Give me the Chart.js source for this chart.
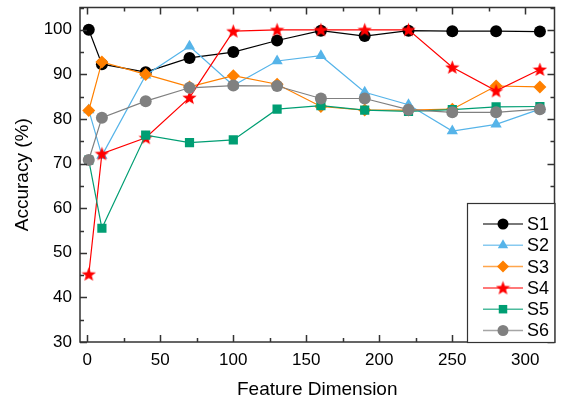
<!DOCTYPE html>
<html>
<head>
<meta charset="utf-8">
<script src="https://cdn.jsdelivr.net/npm/chart.js@4"></script>
<style>
  body { margin: 0; background: #fff; }
  #wrap { width: 562px; height: 403px; }
</style>
</head>
<body>
<div id="wrap"><canvas id="chart"></canvas></div>
<script>
const xValues = [1, 10, 40, 70, 100, 130, 160, 190, 220, 250, 280, 310];
const xTicks = [0, 50, 100, 150, 200, 250, 300];
const yTicks = [30, 40, 50, 60, 70, 80, 90, 100];

const s1 = [100, 92.3, 90.5, 93.7, 95.0, 97.6, 99.8, 98.6, 99.8, 99.7, 99.7, 99.6];
const s2 = [82.0, 71.8, 89.8, 96.3, 87.5, 93.0, 94.2, 86.0, 83.2, 77.3, 78.8, 82.2];
const s3 = [81.9, 92.8, 90.0, 87.2, 89.7, 87.8, 82.8, 82.0, 82.0, 82.2, 87.4, 87.2];
const s4 = [45.2, 72.2, 75.8, 84.8, 99.7, 100, 100, 100, 100, 91.6, 86.3, 91.1];
const s5 = [70.8, 55.5, 76.4, 74.7, 75.3, 82.2, 83.0, 82.0, 81.7, 82.1, 82.7, 82.8];
const s6 = [70.8, 80.3, 84.0, 87.0, 87.5, 87.4, 84.6, 84.6, 82.1, 81.5, 81.5, 82.2];

const names = ['S1', 'S2', 'S3', 'S4', 'S5', 'S6'];
const series = [s1, s2, s3, s4, s5, s6];
const colors = ['#000000', '#56B4E9', '#FF8000', '#FF0000', '#009E73', '#808080'];

// filled five point star, chart.js 'star' is only strokes
function makeStar(size, color) {
    const c = document.createElement('canvas');
    c.width = size; c.height = size;
    const g = c.getContext('2d');
    const r = size / 2, ri = r * 0.42;
    g.beginPath();
    for (let i = 0; i < 10; i++) {
        const rad = i % 2 ? ri : r;
        const a = -Math.PI / 2 + i * Math.PI / 5;
        g.lineTo(r + rad * Math.cos(a), r + 0.5 + rad * Math.sin(a));
    }
    g.closePath();
    g.fillStyle = color;
    g.fill();
    return c;
}

const styles = ['circle', 'triangle', 'rectRot', makeStar(15, '#FF0000'), 'rect', 'circle'];
const radii = [6, 6.5, 6.5, 7.5, 6.5, 6];
const font = '"Liberation Sans", Arial, sans-serif';

const ctx = document.getElementById('chart').getContext('2d');

// frame + inward major/minor ticks on all four sides, plus the boxed legend
const frameTicks = {
    id: 'frameTicks',
    afterDraw(chart) {
        const { ctx, chartArea: a, scales: { x, y } } = chart;
        ctx.save();
        ctx.strokeStyle = '#333';
        ctx.lineWidth = 1.5;
        ctx.strokeRect(a.left, a.top, a.right - a.left, a.bottom - a.top);
        ctx.beginPath();
        for (let v = 0; v <= 300; v += 25) {
            const px = Math.round(x.getPixelForValue(v)) + 0.5;
            const len = v % 50 === 0 ? 7 : 4;
            ctx.moveTo(px, a.bottom); ctx.lineTo(px, a.bottom - len);
            ctx.moveTo(px, a.top); ctx.lineTo(px, a.top + len);
        }
        for (let v = 30; v <= 105; v += 5) {
            const py = Math.round(y.getPixelForValue(v)) + 0.5;
            const len = v % 10 === 0 ? 7 : 4;
            ctx.moveTo(a.left, py); ctx.lineTo(a.left + len, py);
            ctx.moveTo(a.right, py); ctx.lineTo(a.right - len, py);
        }
        ctx.stroke();

        const bx = 467, by = 203, bw = a.right - 467, bh = a.bottom - 203;
        ctx.fillStyle = '#fff';
        ctx.fillRect(bx, by, bw, bh);
        ctx.strokeStyle = '#333';
        ctx.lineWidth = 1.2;
        ctx.strokeRect(bx + 0.5, by + 0.5, bw, bh);
        ctx.font = '18px ' + font;
        ctx.textBaseline = 'middle';
        names.forEach((n, i) => {
            const ly = by + 21 + i * 21.3;
            ctx.strokeStyle = colors[i];
            ctx.globalAlpha = 0.7;
            ctx.lineWidth = 1.5;
            ctx.beginPath();
            ctx.moveTo(483, ly); ctx.lineTo(523, ly);
            ctx.stroke();
            ctx.globalAlpha = 1;
            ctx.fillStyle = colors[i];
            Chart.helpers.drawPoint(ctx, {
                pointStyle: styles[i], radius: radii[i] - 0.5, rotation: 0, borderWidth: 0
            }, 503, ly);
            ctx.fillStyle = '#000';
            ctx.fillText(n, 527, ly + 1);
        });
        ctx.restore();
    }
};

new Chart(ctx, {
    type: 'line',
    data: {
        datasets: series.map((s, i) => ({
            label: names[i],
            data: s.map((v, j) => ({ x: xValues[j], y: v })),
            borderColor: colors[i],
            backgroundColor: colors[i],
            borderWidth: 1.2,
            pointStyle: styles[i],
            pointRadius: radii[i],
            pointBorderWidth: 0,
            order: 6 - i
        }))
    },
    options: {
        responsive: true,
        maintainAspectRatio: false,
        animation: false,
        layout: { padding: { top: 4, right: 5 } },
        scales: {
            x: {
                type: 'linear',
                min: -5,
                max: 320,
                afterBuildTicks: (scale) => { scale.ticks = xTicks.map(v => ({ value: v })); },
                afterFit: (scale) => {
                    scale.height = 61;
                    scale.paddingLeft = 0;
                    scale.paddingRight = 0;
                },
                grid: { display: false, drawTicks: false },
                border: { display: false },
                ticks: { color: '#000', padding: 8, maxRotation: 0, font: { size: 17, family: font } },
                title: {
                    display: true, text: 'Feature Dimension', color: '#000',
                    font: { size: 19, family: font }, padding: { top: 6, bottom: 2 }
                }
            },
            y: {
                min: 30,
                max: 105,
                afterBuildTicks: (scale) => { scale.ticks = yTicks.map(v => ({ value: v })); },
                afterFit: (scale) => {
                    scale.width = 80;
                    scale.paddingTop = 0;
                    scale.paddingBottom = 0;
                },
                grid: { display: false, drawTicks: false },
                border: { display: false },
                ticks: { color: '#000', padding: 8, font: { size: 17, family: font } },
                title: {
                    display: true, text: 'Accuracy (%)', color: '#000',
                    font: { size: 19, family: font }, padding: { top: 11, bottom: 0 }
                }
            }
        },
        plugins: {
            legend: { display: false },
            tooltip: { enabled: false }
        }
    },
    plugins: [frameTicks]
});
</script>
</body>
</html>
